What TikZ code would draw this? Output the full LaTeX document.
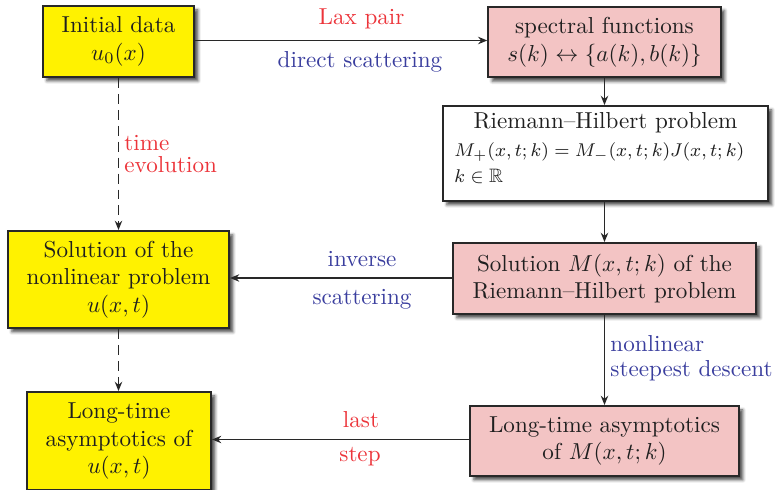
\documentclass[tikz,border=0pt]{standalone}
\usepackage{amsmath,amssymb}
\usetikzlibrary{arrows.meta,shadows.blur}
\definecolor{boxyellow}{RGB}{255,242,0}
\definecolor{boxpink}{RGB}{243,196,196}
\definecolor{lblred}{RGB}{236,52,58}
\definecolor{lblblue}{RGB}{58,62,158}
\definecolor{edge}{RGB}{40,40,40}
\tikzset{
  box/.style={draw=edge, line width=0.85pt, text=black!88, align=center, inner sep=0pt,
    blur shadow={shadow xshift=1.7pt, shadow yshift=-1.7pt, shadow blur radius=1.3pt, shadow opacity=70}},
  ybox/.style={box, fill=boxyellow},
  pbox/.style={box, fill=boxpink},
  wbox/.style={box, fill=white},
  conn/.style={draw=edge, line width=0.7pt, -{Stealth[length=4pt,width=3.2pt]}},
  dconn/.style={conn, dash pattern=on 4.3pt off 2.6pt},
  rlab/.style={text=lblred, inner sep=0pt},
  blab/.style={text=lblblue, inner sep=0pt},
  plain/.style={inner sep=0pt, text=black!88}
}
\begin{document}
\begin{tikzpicture}[x=0.4329pt, y=-0.4329pt]
\useasboundingbox (0,0) rectangle (775,490);

\node[ybox, minimum width=65.4pt, minimum height=30.7pt] (init) at (118.5,41.5) {Initial data\\$u_0(x)$};
\node[pbox, minimum width=100.6pt, minimum height=30.7pt] (spec) at (604.5,42) {spectral functions\\$s(k)\leftrightarrow\{a(k),b(k)\}$};
\node[wbox, minimum width=140.7pt, minimum height=41.1pt] (rh) at (605.5,153.5) {};
\node[plain, anchor=base] (rht) at (605.5,129) {Riemann--Hilbert problem};
\node[plain, anchor=base west, font=\fontsize{8.4pt}{10pt}\selectfont] (rh2) at (454,157) {$M_+(x,t;k)=M_-(x,t;k)J(x,t;k)$};
\node[plain, anchor=base west, font=\fontsize{8.4pt}{10pt}\selectfont] (rh3) at (454,183) {$k\in\mathbb{R}$};

\node[ybox, minimum width=95.7pt, minimum height=42.0pt] (sol) at (118.5,279.5) {Solution of the\\nonlinear problem\\$u(x,t)$};
\node[pbox, minimum width=131.2pt, minimum height=30.7pt] (solM) at (604.5,278.5) {Solution $M(x,t;k)$ of the\\Riemann--Hilbert problem};
\node[ybox, minimum width=79.7pt, minimum height=42.4pt] (ltu) at (119,441) {Long-time\\asymptotics of\\$u(x,t)$};
\node[pbox, minimum width=116.4pt, minimum height=30.3pt] (ltM) at (604.5,441) {Long-time asymptotics\\of $M(x,t;k)$};

% connectors
\draw[conn] (init.east |- 0,40.5) -- (spec.west |- 0,40.5);
\draw[conn] (spec.south) -- (spec.south |- rh.north);
\draw[conn] (rh.south -| solM.north) -- (solM.north);
\draw[conn] (solM.west |- 0,278) -- (sol.east |- 0,278);
\draw[conn] (solM.south) -- (ltM.north);
\draw[conn] (ltM.west |- 0,439.5) -- (ltu.east |- 0,439.5);
\draw[dconn] (init.south) -- (sol.north);
\draw[dconn] (sol.south) -- (sol.south |- ltu.north);

% labels
\node[rlab, anchor=base] (l1) at (361.5,25) {Lax pair};
\node[blab, anchor=base] (l2) at (360,68) {direct scattering};
\node[rlab, anchor=base west] (l3) at (124,151) {time};
\node[rlab, anchor=base west] (l4) at (124,173) {evolution};
\node[blab, anchor=base] (l5) at (362,267) {inverse};
\node[blab, anchor=base] (l6) at (362,305) {scattering};
\node[blab, anchor=base west] (l7) at (610,351) {nonlinear};
\node[blab, anchor=base west] (l8) at (610,377) {steepest descent};
\node[rlab, anchor=base] (l9) at (361,427) {last};
\node[rlab, anchor=base] (l10) at (360,462) {step};
\end{tikzpicture}
\end{document}
